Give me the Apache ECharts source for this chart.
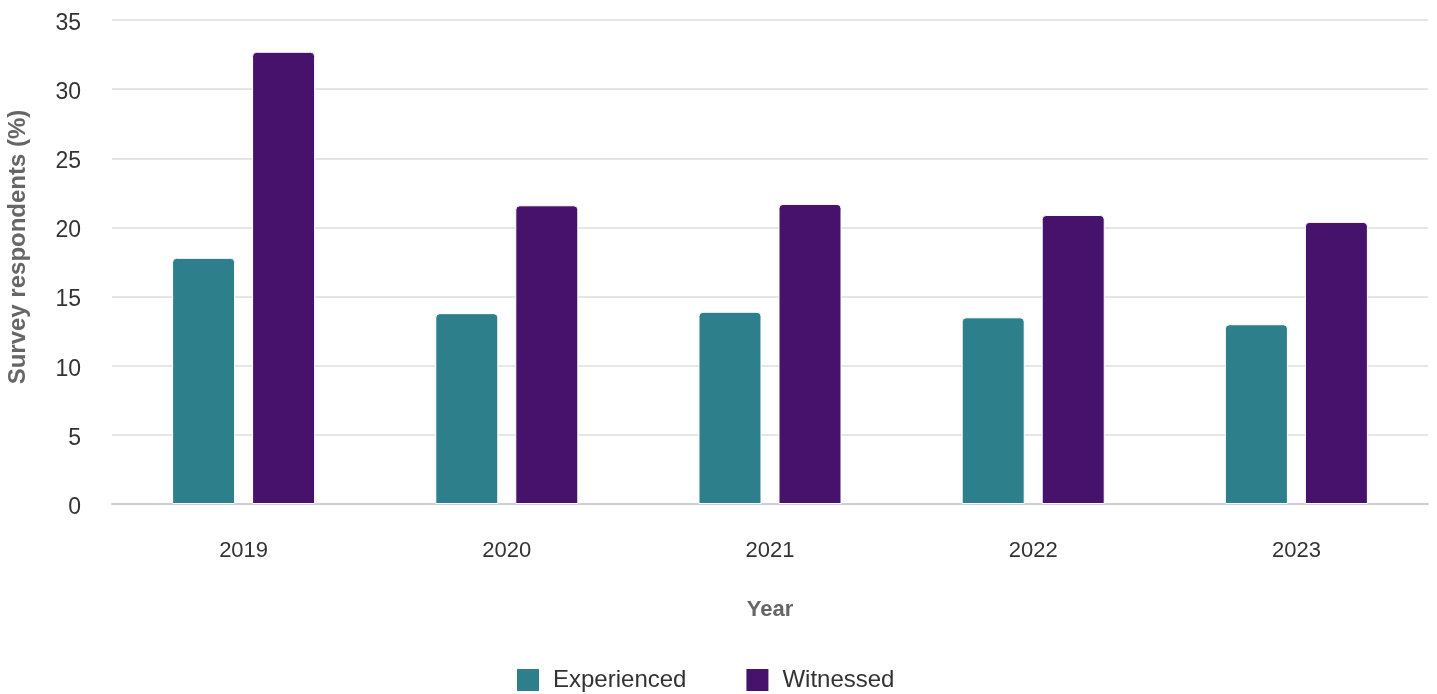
<!DOCTYPE html>
<html><head><meta charset="utf-8">
<script src="https://cdn.jsdelivr.net/npm/echarts@6/dist/echarts.min.js"></script>
<style>html,body{margin:0;padding:0;background:#fff}#c{width:1437px;height:694px}</style>
</head><body><div id="c"></div>
<script>
const categories = ['2019','2020','2021','2022','2023'];
const experienced = [17.8, 13.8, 13.9, 13.5, 13.0];
const witnessed = [32.7, 21.6, 21.7, 20.9, 20.4];
const yTicks = [0,5,10,15,20,25,30,35];

const chart = echarts.init(document.getElementById('c'));
const font = '"Liberation Sans", Arial, sans-serif';
chart.setOption({
  animation: false,
  textStyle: {fontFamily: font},
  grid: {left: 112, right: 9, top: 20, bottom: 190, outerBoundsMode: 'none', containLabel: false},
  legend: {
    top: 662, left: 510, itemWidth: 24, itemHeight: 24, itemGap: 58, icon: 'rect',
    textStyle: {fontSize: 24, color: '#333', fontFamily: font, padding: [0,0,0,8]},
    data: ['Experienced','Witnessed']
  },
  xAxis: {
    type: 'category', data: categories,
    name: 'Year', nameLocation: 'middle', nameGap: 95,
    nameTextStyle: {fontSize: 22, fontWeight: 'bold', color: '#666', fontFamily: font},
    axisLine: {lineStyle: {color: '#ccd0d6', width: 2}},
    axisTick: {show: false},
    axisLabel: {fontSize: 22, color: '#333', margin: 36, fontFamily: font}
  },
  yAxis: {
    type: 'value', min: 0, max: 35, interval: 5,
    name: 'Survey respondents (%)', nameLocation: 'middle', nameGap: 82, nameRotate: 90,
    nameTextStyle: {fontSize: 24, fontWeight: 'bold', color: '#666', fontFamily: font, padding: [0,0,0,30]},
    axisLabel: {color: '#333', margin: 31, fontFamily: font,
      formatter: v => yTicks.includes(v) ? '{a|' + v + '}' : '',
      rich: {a: {fontSize: 23, color: '#333', fontFamily: font, padding: [7,0,0,0]}}},
    splitLine: {lineStyle: {color: '#e6e6e6', width: 2}},
    axisLine: {show: false}, axisTick: {show: false}
  },
  series: [
    {name: 'Experienced', type: 'bar', data: experienced, barWidth: 63, barGap: '27%',
     itemStyle: {color: '#2E7F8C', borderColor: '#fff', borderWidth: 1, borderRadius: [4,4,0,0]}},
    {name: 'Witnessed', type: 'bar', data: witnessed, barWidth: 63,
     itemStyle: {color: '#46126C', borderColor: '#fff', borderWidth: 1, borderRadius: [4,4,0,0]}}
  ]
});
</script></body></html>
